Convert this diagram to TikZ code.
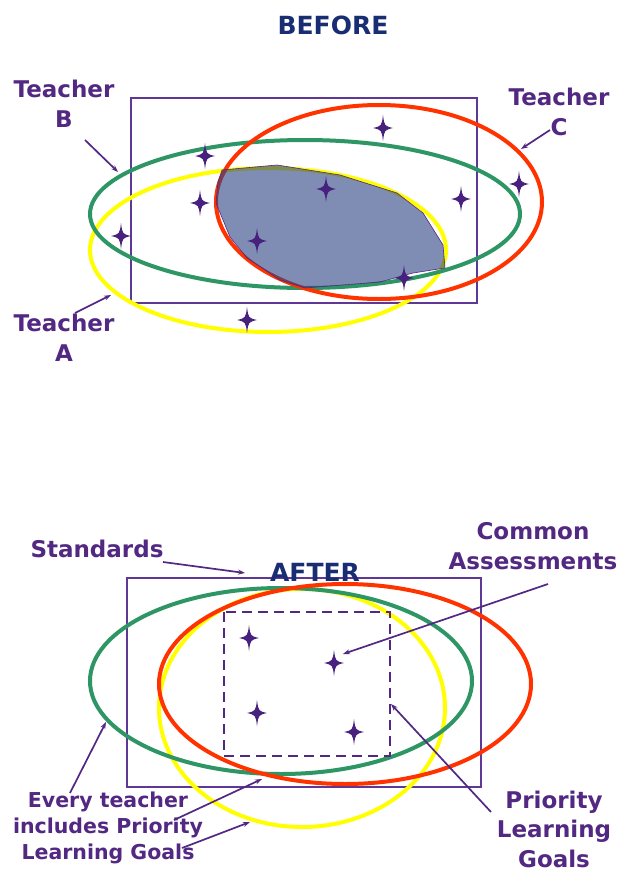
\documentclass[tikz,border=0pt]{standalone}
\usepackage{fontspec}
\setmainfont{DejaVu Sans}
\usetikzlibrary{arrows.meta}
\definecolor{tpurple}{RGB}{82,40,130}
\definecolor{navyc}{RGB}{25,45,115}
\definecolor{greenc}{RGB}{46,150,100}
\definecolor{redc}{RGB}{255,51,0}
\definecolor{yellowc}{RGB}{255,255,0}
\definecolor{starc}{RGB}{72,32,125}
\definecolor{rectc}{RGB}{95,55,150}
\definecolor{fillc}{RGB}{42,65,132}
\tikzset{
  lbl/.style={text=tpurple, align=center, inner sep=0pt, font=\fontsize{23}{29.5}\bfseries\selectfont},
  lblsmall/.style={text=tpurple, align=center, inner sep=0pt, font=\fontsize{20.5}{26}\bfseries\selectfont},
  ttl/.style={text=navyc, inner sep=0pt, font=\fontsize{25}{30}\bfseries\selectfont},
  arr/.style={draw=tpurple, line width=1.7pt, -{Stealth[length=7pt,width=5pt]}},
  ring/.style={line width=4pt},
  frame/.style={draw=rectc, line width=1.1pt},
  star4/.pic={\fill[starc] (0,-13) .. controls (1.4,-2) .. (10,0) .. controls (1.4,2) .. (0,13) .. controls (-1.4,2) .. (-10,0) .. controls (-1.4,-2) .. cycle;}
}
\begin{document}
\begin{tikzpicture}[x=1pt,y=-1pt]
\fill[white] (0,0) rectangle (625,872);
\useasboundingbox (0,0) rectangle (625,872);

% ---------------- BEFORE ----------------
\node[ttl] (before) at (333,25) {BEFORE};
\draw[frame] (131,98) rectangle (477,303);
\draw[ring, yellowc] (268,250) ellipse [x radius=178pt, y radius=82pt];
\draw[ring, greenc] (305,214) ellipse [x radius=215pt, y radius=74pt];
\draw[ring, redc] (379,202) ellipse [x radius=163pt, y radius=97pt];
\fill[fillc, fill opacity=0.6] (222,170) -- (277,165) -- (340,175) -- (397,193) -- (423,213) -- (443,245) -- (445,268) -- (413,273) -- (380,282) -- (305,288) -- (280,280) -- (247,258) -- (230,237) -- (216,203) -- (218,182) -- cycle;
\draw[tpurple, line width=0.6pt] (222,170) -- (277,165) -- (340,175) -- (397,193) -- (423,213) -- (443,245) -- (445,268) -- (413,273) -- (380,282) -- (305,288) -- (280,280) -- (247,258) -- (230,237) -- (216,203) -- (218,182) -- cycle;
\foreach \p in {(383,128),(205,156),(326,189),(461,199),(519,184),(200,203),(121,236),(257,241),(404,278),(247,320)}
  \pic at \p {star4};

\node[lbl] (tB) at (64,104) {Teacher\\B};
\node[lbl] (tC) at (559,112) {Teacher\\C};
\node[lbl] (tA) at (64,338) {Teacher\\A};
\coordinate (tBs) at (85,140);  \coordinate (tBe) at (118,172);
\coordinate (tCs) at (550,130); \coordinate (tCe) at (521,149);
\coordinate (tAs) at (75,313);  \coordinate (tAe) at (111,295);
\draw[arr] (tBs) -- (tBe);
\draw[arr] (tCs) -- (tCe);
\draw[arr] (tAs) -- (tAe);

% ---------------- AFTER ----------------
\draw[frame] (127,578) rectangle (481,787);
\draw[ring, yellowc] (302,708) ellipse [x radius=143pt, y radius=119pt];
\draw[ring, greenc] (281,681) ellipse [x radius=191pt, y radius=93pt];
\draw[ring, redc] (345,684) ellipse [x radius=186pt, y radius=100pt];
\draw[tpurple, line width=2.7pt, dash pattern=on 10pt off 6pt] (224,612) rectangle (390,756);
\foreach \p in {(249,638),(334,663),(257,713),(354,732)}
  \pic at \p {star4};
\node[ttl] (after) at (315,572) {AFTER};

\node[lbl] (std) at (97,549) {Standards};
\node[lbl] (ca) at (533,546) {Common\\Assessments};
\node[lblsmall] (every) at (108,828) {Every teacher\\includes Priority\\Learning Goals};
\node[lbl] (plg) at (554,829) {Priority\\Learning\\Goals};

\coordinate (stds) at (163,562); \coordinate (stde) at (245,573);
\coordinate (cas) at (548,584);  \coordinate (cae) at (343,654);
\coordinate (plgs) at (491,812); \coordinate (plge) at (391,704);
\coordinate (ev1s) at (70,793);  \coordinate (ev1e) at (106,722);
\coordinate (ev2s) at (174,820); \coordinate (ev2e) at (262,779);
\coordinate (ev3s) at (182,848); \coordinate (ev3e) at (250,822);
\draw[arr] (stds) -- (stde);
\draw[arr] (cas) -- (cae);
\draw[arr] (plgs) -- (plge);
\draw[arr] (ev1s) -- (ev1e);
\draw[arr] (ev2s) -- (ev2e);
\draw[arr] (ev3s) -- (ev3e);
\end{tikzpicture}
\end{document}
